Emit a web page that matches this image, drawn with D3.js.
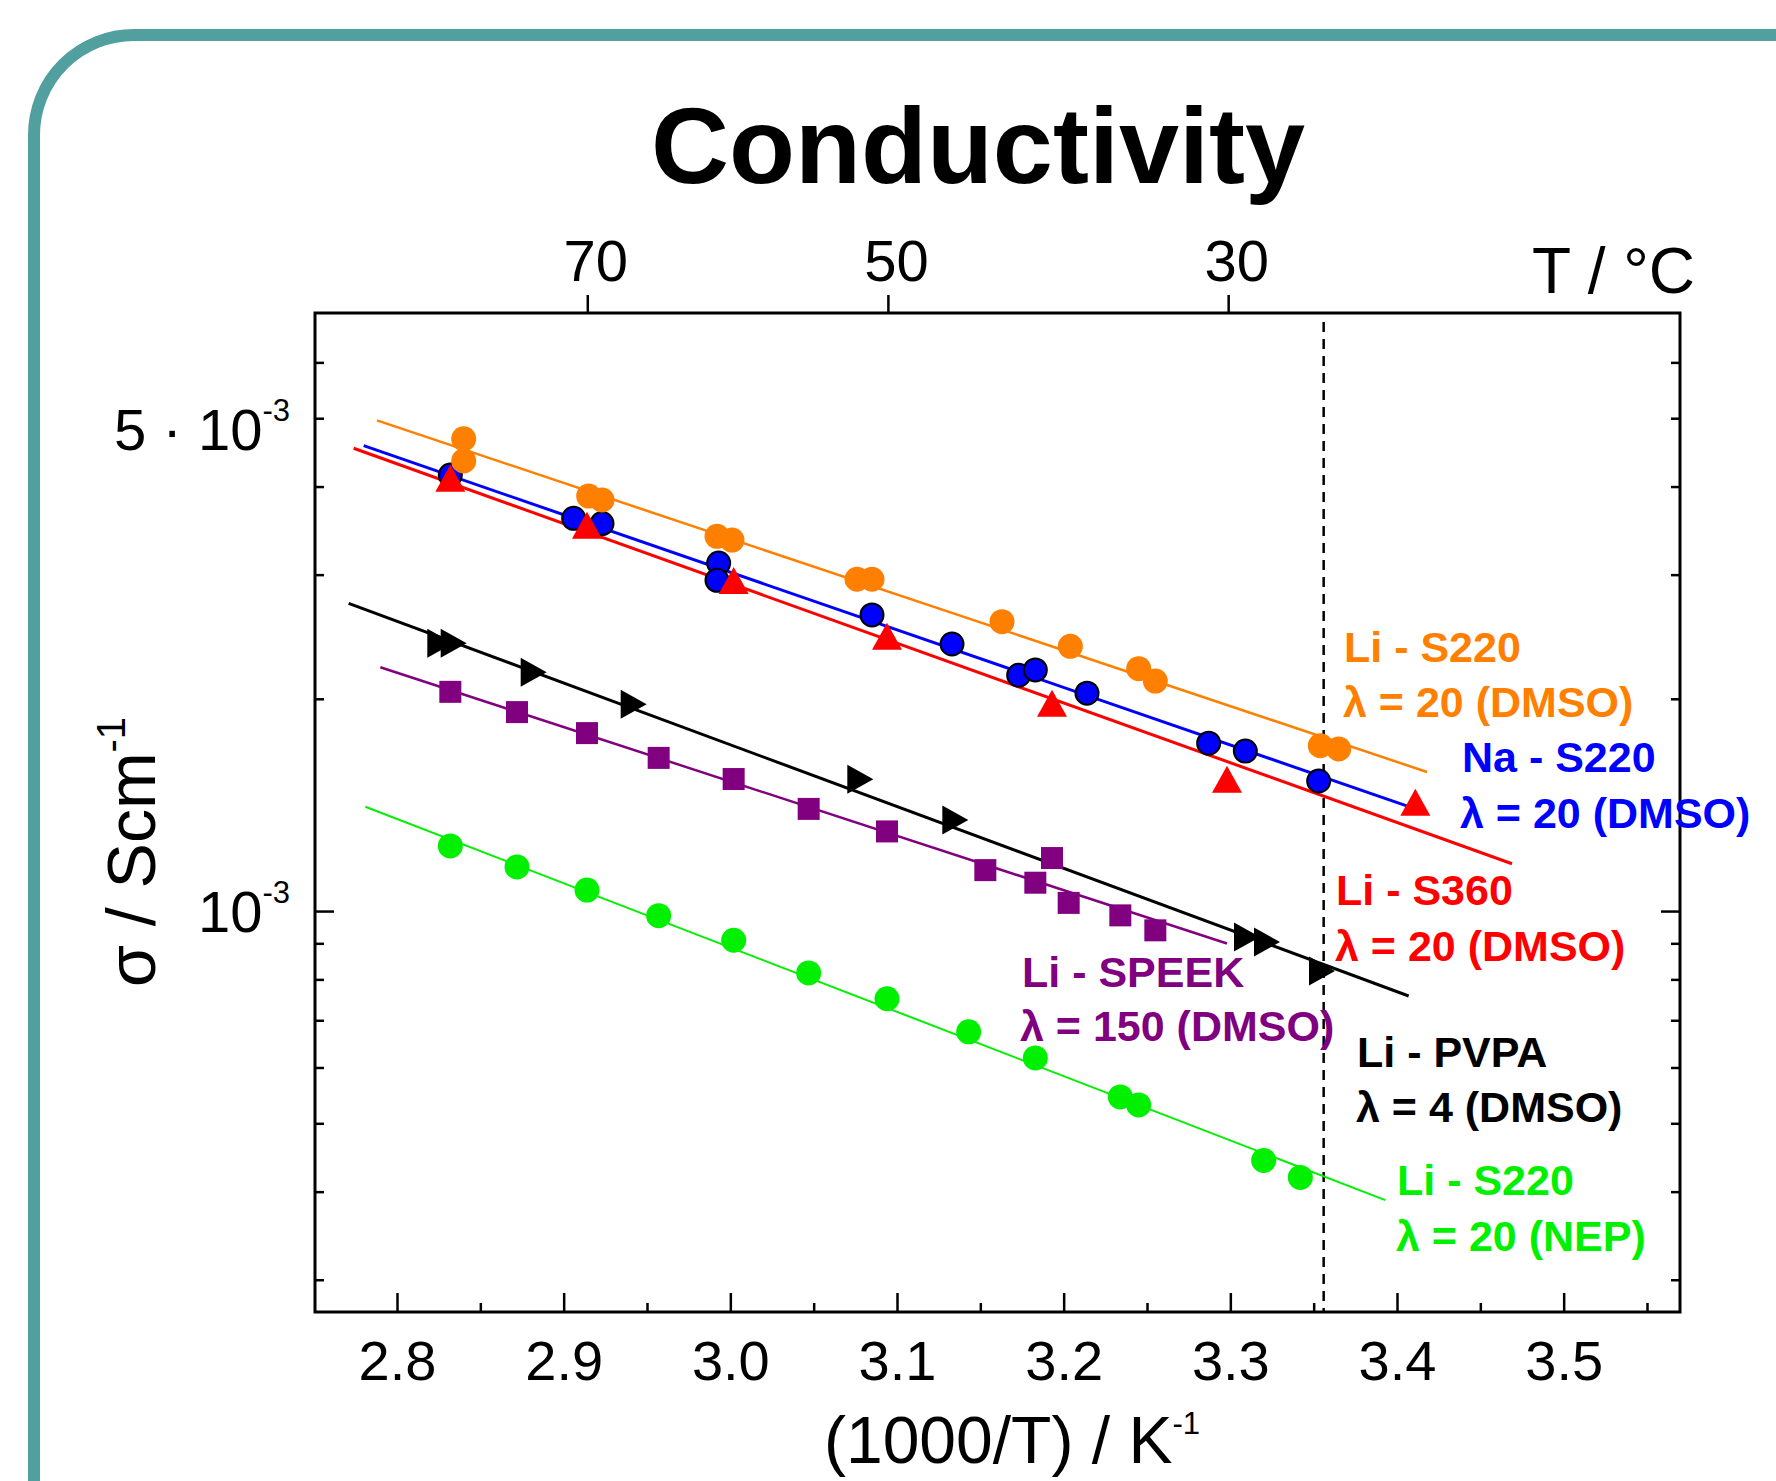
<!DOCTYPE html>
<html>
<head>
<meta charset="utf-8">
<script src="https://cdn.jsdelivr.net/npm/d3@7"></script>
<style>
  body { margin: 0; background: #fff; }
  text { font-family: "Liberation Sans", Arial, Helvetica, sans-serif; }
</style>
</head>
<body>
<div id="chart"></div>
<script>
var svgWidth = 1776;
var svgHeight = 1481;

var margin = { top: 313, right: 96, bottom: 169, left: 315 };
var width = svgWidth - margin.left - margin.right;
var height = svgHeight - margin.top - margin.bottom;

// ---- data ----
var xTicks = [2.8, 2.9, 3.0, 3.1, 3.2, 3.3, 3.4, 3.5];
var xMinorTicks = [2.85, 2.95, 3.05, 3.15, 3.25, 3.35, 3.45, 3.55];
var tempTicks = [70, 50, 30];
var yMinorTicks = [3e-4, 4e-4, 5e-4, 6e-4, 7e-4, 8e-4, 9e-4, 2e-3, 3e-3, 4e-3, 5e-3, 6e-3];
var yMajorTicks = [1e-3];
var yLabelValues = [5e-3, 1e-3];
var yLabelMantissa = ["5 \u00b7 10", "10"];
var yLabelExponent = ["-3", "-3"];
var roomTemp = 3.356; // 25 degC

// Li - S220, lambda = 20 (DMSO)
var orangeX = [2.840, 2.840, 2.915, 2.923, 2.992, 3.001, 3.076, 3.085, 3.163, 3.204, 3.245, 3.255, 3.354, 3.365];
var orangeY = [4.675e-3, 4.349e-3, 3.877e-3, 3.829e-3, 3.400e-3, 3.358e-3, 2.955e-3, 2.955e-3, 2.573e-3, 2.374e-3, 2.207e-3, 2.119e-3, 1.716e-3, 1.698e-3];
var orangeFit = [[2.788, 4.964e-3], [3.418, 1.575e-3]];

// Na - S220, lambda = 20 (DMSO)
var blueX = [2.832, 2.906, 2.923, 2.993, 2.992, 3.085, 3.133, 3.173, 3.183, 3.214, 3.287, 3.309, 3.353];
var blueY = [4.153e-3, 3.606e-3, 3.544e-3, 3.116e-3, 2.945e-3, 2.630e-3, 2.392e-3, 2.160e-3, 2.198e-3, 2.037e-3, 1.730e-3, 1.686e-3, 1.529e-3];
var blueFit = [[2.780, 4.571e-3], [3.408, 1.404e-3]];

// Li - S360, lambda = 20 (DMSO)
var redX = [2.832, 2.914, 3.002, 3.094, 3.193, 3.298, 3.411];
var redY = [4.111e-3, 3.524e-3, 2.944e-3, 2.453e-3, 1.971e-3, 1.538e-3, 1.427e-3];
var redFit = [[2.774, 4.533e-3], [3.469, 1.167e-3]];

// Li - PVPA, lambda = 4 (DMSO)
var blackX = [2.826, 2.834, 2.882, 2.942, 3.078, 3.135, 3.310, 3.322, 3.355];
var blackY = [2.398e-3, 2.398e-3, 2.182e-3, 1.965e-3, 1.538e-3, 1.346e-3, 9.19e-4, 9.04e-4, 8.22e-4];
var blackFit = [[2.771, 2.731e-3], [3.407, 7.578e-4]];

// Li - SPEEK, lambda = 150 (DMSO)
var purpleX = [2.832, 2.872, 2.914, 2.957, 3.002, 3.047, 3.094, 3.153, 3.183, 3.193, 3.203, 3.234, 3.255];
var purpleY = [2.046e-3, 1.915e-3, 1.788e-3, 1.649e-3, 1.539e-3, 1.396e-3, 1.297e-3, 1.143e-3, 1.097e-3, 1.189e-3, 1.027e-3, 9.86e-4, 9.39e-4];
var purpleFit = [[2.790, 2.217e-3], [3.298, 8.994e-4]];

// Li - S220, lambda = 20 (NEP)
var greenX = [2.832, 2.872, 2.914, 2.957, 3.002, 3.047, 3.094, 3.143, 3.183, 3.234, 3.245, 3.320, 3.342];
var greenY = [1.237e-3, 1.155e-3, 1.071e-3, 9.85e-4, 9.09e-4, 8.17e-4, 7.51e-4, 6.74e-4, 6.19e-4, 5.45e-4, 5.31e-4, 4.43e-4, 4.19e-4];
var greenFit = [[2.781, 1.406e-3], [3.393, 3.890e-4]];

var labelTitles = ["Li - S220", "Na - S220", "Li - S360", "Li - PVPA", "Li - S220", "Li - SPEEK"];
var labelSubs = ["\u03bb = 20 (DMSO)", "\u03bb = 20 (DMSO)", "\u03bb = 20 (DMSO)", "\u03bb = 4 (DMSO)", "\u03bb = 20 (NEP)", "\u03bb = 150 (DMSO)"];

// ---- svg ----
var svg = d3.select("#chart")
  .append("svg")
  .attr("width", svgWidth)
  .attr("height", svgHeight);

svg.append("rect")
  .attr("width", svgWidth)
  .attr("height", svgHeight)
  .attr("fill", "#fff");

// teal rounded frame, runs off the right and bottom edge
var rr = 100;
svg.append("path")
  .attr("d", `M34,${svgHeight + 20} L34,${35 + rr} A${rr},${rr} 0 0 1 ${34 + rr},35 L${svgWidth + 20},35`)
  .attr("fill", "none")
  .attr("stroke", "#519f9f")
  .attr("stroke-width", 12);

svg.append("text")
  .attr("x", 978)
  .attr("y", 183)
  .attr("text-anchor", "middle")
  .attr("font-size", 108)
  .attr("font-weight", "bold")
  .text("Conductivity");

var chartGroup = svg.append("g")
  .attr("transform", `translate(${margin.left}, ${margin.top})`);

var xScale = d3.scaleLinear().domain([2.7508, 3.5698]).range([0, width]);
var yScale = d3.scaleLog().domain([2.7e-4, 7.05e-3]).range([height, 0]);

// ---- axes ----
function styleAxis(g) {
  g.select(".domain").remove();
  g.selectAll(".tick line").attr("stroke", "#000").attr("stroke-width", 2.5);
  return g;
}

chartGroup.append("g")
  .attr("transform", `translate(0, ${height})`)
  .call(d3.axisBottom(xScale).tickValues(xTicks).tickSizeInner(-19).tickSizeOuter(0)
    .tickPadding(28).tickFormat(d3.format(".1f")))
  .call(styleAxis)
  .selectAll("text").attr("font-size", 56).attr("fill", "#000");

chartGroup.append("g")
  .attr("transform", `translate(0, ${height})`)
  .call(d3.axisBottom(xScale).tickValues(xMinorTicks).tickSizeInner(-9).tickSizeOuter(0).tickFormat(""))
  .call(styleAxis);

// top axis in degrees C
chartGroup.append("g")
  .call(d3.axisTop(xScale).tickValues(tempTicks.map(t => 1000 / (t + 273.15)))
    .tickSizeInner(18).tickSizeOuter(0).tickPadding(14)
    .tickFormat((d, i) => tempTicks[i]))
  .call(styleAxis)
  .selectAll("text").attr("font-size", 58).attr("fill", "#000").attr("dx", 8);

[[yMinorTicks, -9], [yMajorTicks, -19]].forEach(function (t) {
  chartGroup.append("g")
    .call(d3.axisLeft(yScale).tickValues(t[0]).tickSizeInner(t[1]).tickSizeOuter(0).tickFormat(""))
    .call(styleAxis);
  chartGroup.append("g")
    .attr("transform", `translate(${width}, 0)`)
    .call(d3.axisRight(yScale).tickValues(t[0]).tickSizeInner(t[1]).tickSizeOuter(0).tickFormat(""))
    .call(styleAxis);
});

// y tick labels with exponent
var yLabelDy = [32, 21];
yLabelValues.forEach(function (v, i) {
  var t = chartGroup.append("text")
    .attr("x", -25)
    .attr("y", yScale(v) + yLabelDy[i])
    .attr("text-anchor", "end")
    .attr("font-size", 58);
  t.append("tspan").text(yLabelMantissa[i]);
  t.append("tspan").attr("font-size", 31).attr("dy", -29).text(yLabelExponent[i]);
});

// frame
chartGroup.append("rect")
  .attr("width", width)
  .attr("height", height)
  .attr("fill", "none")
  .attr("stroke", "#000")
  .attr("stroke-width", 3);

// axis titles
var xTitle = svg.append("text")
  .attr("x", 1012)
  .attr("y", 1463)
  .attr("text-anchor", "middle")
  .attr("font-size", 66);
xTitle.append("tspan").text("(1000/T) / K");
xTitle.append("tspan").attr("font-size", 31).attr("dy", -29).text("-1");

var yTitle = svg.append("text")
  .attr("transform", "translate(155, 852) rotate(-90)")
  .attr("text-anchor", "middle")
  .attr("font-size", 68);
yTitle.append("tspan").text("\u03c3 / Scm");
yTitle.append("tspan").attr("font-size", 40).attr("dy", -30).text("-1");

svg.append("text")
  .attr("x", 1695)
  .attr("y", 293)
  .attr("text-anchor", "end")
  .attr("font-size", 64)
  .text("T / \u00b0C");

// room temperature marker
chartGroup.append("line")
  .attr("x1", xScale(roomTemp))
  .attr("x2", xScale(roomTemp))
  .attr("y1", 9)
  .attr("y2", height)
  .attr("stroke", "#000")
  .attr("stroke-width", 2.5)
  .attr("stroke-dasharray", "10,7");

// ---- series ----
function triUp(w, h) { return `M0,${-h / 2}L${w / 2},${h / 2}L${-w / 2},${h / 2}Z`; }
function triRight(w, h) { return `M${w / 2},0L${-w / 2},${h / 2}L${-w / 2},${-h / 2}Z`; }
function square(s) { return `M${-s / 2},${-s / 2}h${s}v${s}h${-s}Z`; }
function circle(r) { return `M${r},0A${r},${r} 0 1 1 ${-r},0A${r},${r} 0 1 1 ${r},0Z`; }

var series = [
  { x: greenX, y: greenY, fit: greenFit, color: "#00f000", lw: 2, marker: circle(12.5), stroke: "none" },
  { x: purpleX, y: purpleY, fit: purpleFit, color: "#800080", lw: 2.5, marker: square(22), stroke: "none" },
  { x: blackX, y: blackY, fit: blackFit, color: "#000000", lw: 3, marker: triRight(26, 29), stroke: "none" },
  { x: blueX, y: blueY, fit: blueFit, color: "#0000ff", lw: 3, marker: circle(11.5), stroke: "#000" },
  { x: redX, y: redY, fit: redFit, color: "#ff0000", lw: 3, marker: triUp(30, 27), stroke: "none" },
  { x: orangeX, y: orangeY, fit: orangeFit, color: "#ff8000", lw: 2.5, marker: circle(12.5), stroke: "none" }
];

var fitLine = d3.line().x(d => xScale(d[0])).y(d => yScale(d[1]));

series.forEach(function (s) {
  chartGroup.append("path")
    .attr("d", fitLine(s.fit))
    .attr("fill", "none")
    .attr("stroke", s.color)
    .attr("stroke-width", s.lw);
});

series.forEach(function (s) {
  chartGroup.selectAll(null)
    .data(s.x.map((v, i) => [v, s.y[i]]))
    .enter()
    .append("path")
    .attr("d", s.marker)
    .attr("transform", d => `translate(${xScale(d[0])}, ${yScale(d[1])})`)
    .attr("fill", s.color)
    .attr("stroke", s.stroke)
    .attr("stroke-width", 2);
});

// ---- labels ----
var labelColors = ["#ff8000", "#0000ff", "#ff0000", "#000000", "#00f000", "#800080"];
var labelPos = [[1344, 662], [1462, 772], [1336, 905], [1357, 1067], [1397, 1195], [1022, 987]];
var subPos = [[1343, 717], [1460, 828], [1335, 961], [1356, 1122], [1396, 1251], [1020, 1041]];

labelTitles.forEach(function (t, i) {
  svg.append("text")
    .attr("x", labelPos[i][0])
    .attr("y", labelPos[i][1])
    .attr("font-size", 43)
    .attr("font-weight", "bold")
    .attr("fill", labelColors[i])
    .text(t);
  svg.append("text")
    .attr("x", subPos[i][0])
    .attr("y", subPos[i][1])
    .attr("font-size", 43)
    .attr("font-weight", "bold")
    .attr("fill", labelColors[i])
    .text(labelSubs[i]);
});
</script>
</body>
</html>
